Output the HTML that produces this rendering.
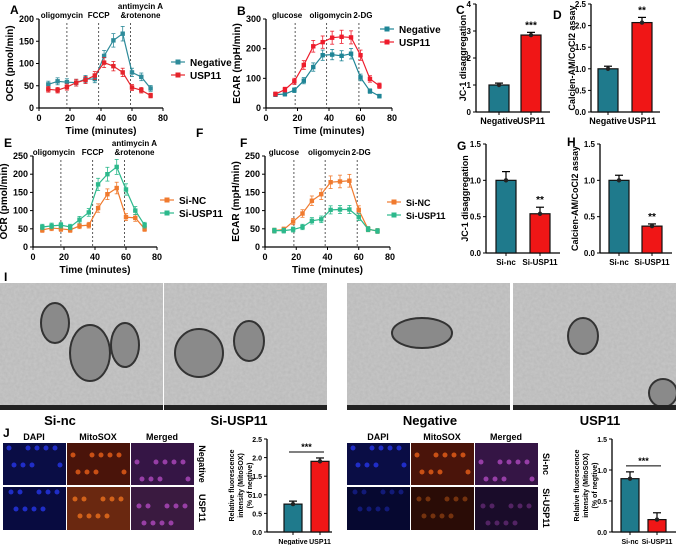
<!DOCTYPE html>
<html><head><meta charset="utf-8"><style>
body{margin:0;background:#fff}
svg{display:block;font-family:"Liberation Sans",Arial,sans-serif;font-weight:bold}
</style></head><body>
<svg id="fig" width="676" height="545" viewBox="0 0 676 545" xmlns="http://www.w3.org/2000/svg">
<defs>
<filter id="noise" x="0" y="0" width="100%" height="100%"><feTurbulence type="fractalNoise" baseFrequency="0.35" numOctaves="2" seed="3"/><feColorMatrix type="matrix" values="0 0 0 0 0.45  0 0 0 0 0.45  0 0 0 0 0.45  0 0 0 -1.6 1.2"/></filter>
</defs>
</svg>
<script>
// ---------- data ----------
const times = [6,12,18,24,30,36,42,48,54,60,66,72];
const aNeg = [53,60,58,57,65,65,117,152,167,80,70,44];
const aUsp = [42,40,47,57,63,73,102,94,80,46,40,28];
const bNeg = [45,47,60,92,138,178,180,176,183,103,57,40];
const bUsp = [47,62,90,145,208,222,237,240,238,178,98,75];
const eSiNC = [47,52,50,47,58,60,107,145,162,82,80,50];
const eSiUSP = [55,58,60,55,75,95,172,200,220,158,100,60];
const fSiNC = [45,48,70,92,127,145,178,180,182,102,49,44];
const fSiUSP = [45,45,48,55,72,76,102,103,103,82,49,44];
const xTicks = [0,20,40,60,80];
const ticksA = [0,50,100,150,200];
const ticksB = [0,100,200,300];
const ticksE = [0,50,100,150,200,250];
const catsNeg = ["Negative","USP11"];
const catsSi = ["Si-nc","Si-USP11"];
const valsC = [1.0,2.85], errsC=[0.07,0.1];
const valsD = [1.0,2.07], errsD=[0.06,0.12];
const valsG = [1.0,0.54], errsG=[0.12,0.09];
const valsH = [1.0,0.37], errsH=[0.07,0.03];
const valsJ1 = [0.75,1.9], errsJ1=[0.08,0.09];
const valsJ2 = [0.86,0.2], errsJ2=[0.11,0.11];
const ticksC=[0,1,2,3,4], ticksD=[0,0.5,1.0,1.5,2.0,2.5], ticksG=[0,0.5,1.0,1.5], ticksJ1=[0,0.5,1.0,1.5,2.0,2.5];

const NS="http://www.w3.org/2000/svg";
const svg=document.getElementById('fig');
function el(tag,attrs,parent,txt){const e=document.createElementNS(NS,tag);for(const k in attrs)e.setAttribute(k,attrs[k]);if(txt!==undefined)e.textContent=txt;(parent||svg).appendChild(e);return e;}
function fmt(v,d){return d?v.toFixed(1):String(v);}

function lineChart(c){
  const g=el('g',{});
  
  
  const sx=v=>c.x0+(v/80)*(c.x1-c.x0);
  const sy=v=>c.yb-(v/c.ymax)*(c.yb-c.yt);
  el('line',{x1:c.x0,y1:c.yt,x2:c.x0,y2:c.yb,stroke:'#000','stroke-width':1.3},g);
  el('line',{x1:c.x0,y1:c.yb,x2:c.x1,y2:c.yb,stroke:'#000','stroke-width':1.3},g);
  c.yticks.forEach(t=>{const y=sy(t);el('line',{x1:c.x0-3,y1:y,x2:c.x0,y2:y,stroke:'#000'},g);
    const tx=el('text',{x:c.x0-5,y:y+3,'font-size':9,'text-anchor':'end'},g,t);});
  xTicks.forEach(t=>{const x=sx(t);el('line',{x1:x,y1:c.yb,x2:x,y2:c.yb+3,stroke:'#000'},g);
    const tx=el('text',{x:x,y:c.yb+13,'font-size':9,'text-anchor':'middle'},g,t);});
  const yt=el('text',{x:0,y:0,'font-size':10,'text-anchor':'middle',transform:`translate(${c.x0-26},${(c.yt+c.yb)/2}) rotate(-90)`},g,c.ytitle);
  
  const xt=el('text',{x:(c.x0+c.x1)/2,y:c.yb+26,'font-size':10,'text-anchor':'middle'},g,'Time (minutes)');
  
  c.vlines.forEach(v=>{const x=sx(v.t);el('line',{x1:x,y1:c.yt+4,x2:x,y2:c.yb,stroke:'#333','stroke-dasharray':'2,2','stroke-width':0.8},g);
    v.lab.forEach((s,i)=>{const t=el('text',{x:x+(v.dx||0),y:c.yt-1-(v.lab.length-1-i)*9,'font-size':8,'text-anchor':'middle'},g,s);});});
  c.series.forEach((s,si)=>{
    const sg=el('g',{},g);
    
    
    const pts=times.map((t,i)=>sx(t)+','+sy(s.vals[i])).join(' ');
    el('polyline',{points:pts,fill:'none',stroke:s.color,'stroke-width':1.2},sg);
    times.forEach((t,i)=>{const x=sx(t),y=sy(s.vals[i]);const e=s.vals[i]*0.08+3;
      el('line',{x1:x,y1:sy(s.vals[i]+e),x2:x,y2:sy(s.vals[i]-e),stroke:s.color,'stroke-width':0.8},sg);
      el('line',{x1:x-2,y1:sy(s.vals[i]+e),x2:x+2,y2:sy(s.vals[i]+e),stroke:s.color,'stroke-width':0.8},sg);
      el('line',{x1:x-2,y1:sy(s.vals[i]-e),x2:x+2,y2:sy(s.vals[i]-e),stroke:s.color,'stroke-width':0.8},sg);
      const m=el('rect',{x:x-2.2,y:y-2.2,width:4.4,height:4.4,fill:s.color},sg);
      });
    const ly=c.legY+si*13;
    const lg=el('g',{},g);
    
    
    el('line',{x1:c.legX,y1:ly,x2:c.legX+14,y2:ly,stroke:s.color,'stroke-width':1.2},lg);
    el('rect',{x:c.legX+4.5,y:ly-2.5,width:5,height:5,fill:s.color},lg);
    el('text',{x:c.legX+19,y:ly+4,'font-size':c.legFs||10},lg,s.label);
  });
}

function barChart(c){
  const g=el('g',{});
  
  
  const sy=v=>c.yb-(v/c.ymax)*(c.yb-c.yt);
  el('line',{x1:c.x0,y1:c.yt,x2:c.x0,y2:c.yb,stroke:'#000','stroke-width':1.3},g);
  el('line',{x1:c.x0,y1:c.yb,x2:c.xe,y2:c.yb,stroke:'#000','stroke-width':1.3},g);
  c.ticks.forEach(t=>{const y=sy(t);el('line',{x1:c.x0-3,y1:y,x2:c.x0,y2:y,stroke:'#000'},g);
    const tx=el('text',{x:c.x0-5,y:y+3,'font-size':c.fs||8,'text-anchor':'end'},g,fmt(t,c.dec));});
  const yt=el('g',{transform:`translate(${c.titleX},${(c.yt+c.yb)/2}) rotate(-90)`},g);
  
  c.ytitle.forEach((s,i)=>el('text',{x:0,y:(i-(c.ytitle.length-1))*9,'font-size':c.tfs||9,'text-anchor':'middle'},yt,s));
  const cols=['#1f7a8c','#f01616'];
  c.vals.forEach((v,i)=>{const cx=c.centers[i];
    const b=el('rect',{x:cx-c.bw/2,y:sy(v),width:c.bw,height:c.yb-sy(v),fill:cols[i],stroke:'#111','stroke-width':1.2},g);
    
    const e=c.errs[i];
    el('line',{x1:cx,y1:sy(v+e),x2:cx,y2:sy(v),stroke:'#000','stroke-width':1.2},g);
    el('line',{x1:cx-4,y1:sy(v+e),x2:cx+4,y2:sy(v+e),stroke:'#000','stroke-width':1.2},g);
    el('circle',{cx:cx,cy:sy(v),r:2.2,fill:'#222'},g);
    el('line',{x1:cx,y1:c.yb,x2:cx,y2:c.yb+3,stroke:'#000'},g);
    const lt=el('text',{x:cx,y:c.yb+12,'font-size':c.lfs||9,'text-anchor':'middle'},g,c.cats[i]);
    
    if(i===1&&c.stars&&!c.sigLine){el('text',{x:cx,y:sy(v+e)-4,'font-size':10,'text-anchor':'middle'},g,c.stars);}
  });
  if(c.sigLine){const ymx=Math.max(...c.vals.map((v,i)=>v+c.errs[i]));const y=sy(ymx)-6;
    el('line',{x1:c.centers[0]-4,y1:y,x2:c.centers[1]+4,y2:y,stroke:'#000','stroke-width':1},g);
    el('text',{x:(c.centers[0]+c.centers[1])/2,y:y-2,'font-size':9,'text-anchor':'middle'},g,c.stars);}
}

function letter(t,x,y){const e=el('text',{x:x,y:y,'font-size':12,'font-weight':'bold'},svg,t);}

lineChart({name:'ocr-chart-a',x0:39,x1:163,yb:108,yt:19,ymax:200,yticks:ticksA,ytitle:'OCR (pmol/min)',
 vlines:[{t:18,lab:['oligomycin'],dx:-5},{t:38.5,lab:['FCCP']},{t:59,lab:['antimycin A','&rotenone'],dx:10}],
 series:[{label:'Negative',vals:aNeg,color:'#2e8b9a'},{label:'USP11',vals:aUsp,color:'#e5242b'}],legX:171,legY:62});
lineChart({name:'ecar-chart-b',x0:266,x1:392,yb:108,yt:19,ymax:300,yticks:ticksB,ytitle:'ECAR (mpH/min)',
 vlines:[{t:18.5,lab:['glucose'],dx:-8},{t:38.5,lab:['oligomycin'],dx:4},{t:59,lab:['2-DG'],dx:4}],
 series:[{label:'Negative',vals:bNeg,color:'#1f8596'},{label:'USP11',vals:bUsp,color:'#ee1c2c'}],legX:380,legY:29});
lineChart({name:'ocr-chart-e',x0:33,x1:157,yb:247,yt:156,ymax:250,yticks:ticksE,ytitle:'OCR (pmol/min)',
 vlines:[{t:18,lab:['oligomycin'],dx:-7},{t:38.5,lab:['FCCP']},{t:59,lab:['antimycin A','&rotenone'],dx:10}],
 series:[{label:'Si-NC',vals:eSiNC,color:'#f07a2e'},{label:'Si-USP11',vals:eSiUSP,color:'#2cb98c'}],legX:160,legY:200});
lineChart({name:'ecar-chart-f',x0:265,x1:390,yb:247,yt:156,ymax:250,yticks:ticksE,ytitle:'ECAR (mpH/min)',
 vlines:[{t:18.5,lab:['glucose'],dx:-10},{t:38.5,lab:['oligomycin'],dx:4},{t:59,lab:['2-DG'],dx:4}],
 series:[{label:'Si-NC',vals:fSiNC,color:'#f07a2e'},{label:'Si-USP11',vals:fSiUSP,color:'#2cb98c'}],legX:387,legY:202,legFs:9});

barChart({name:'jc1-chart-c',x0:476,xe:550,yb:112,yt:4,ymax:4,ticks:ticksC,dec:false,cats:catsNeg,vals:valsC,errs:errsC,centers:[499,531],bw:20,titleX:466,ytitle:['JC-1 disaggregation'],stars:'***'});
barChart({name:'calcein-chart-d',x0:591,xe:660,yb:112,yt:4,ymax:2.5,ticks:ticksD,dec:true,cats:catsNeg,vals:valsD,errs:errsD,centers:[608,642],bw:20,titleX:575,ytitle:['Calcien-AM/CoCl2 assay'],stars:'**'});
barChart({name:'jc1-chart-g',x0:486,xe:560,yb:253,yt:144,ymax:1.5,ticks:ticksG,dec:true,cats:catsSi,vals:valsG,errs:errsG,centers:[506,540],bw:20,titleX:468,lfs:8,ytitle:['JC-1 disaggregation'],stars:'**'});
barChart({name:'calcein-chart-h',x0:600,xe:672,yb:253,yt:144,ymax:1.5,ticks:ticksG,dec:true,cats:catsSi,vals:valsH,errs:errsH,centers:[619,652],bw:20,titleX:578,lfs:8,ytitle:['Calcien-AM/CoCl2 assay'],stars:'**'});
barChart({name:'mitosox-chart-j1',x0:267,xe:332,yb:532,yt:439,ymax:2.5,ticks:ticksJ1,dec:true,cats:catsNeg,vals:valsJ1,errs:errsJ1,centers:[293,320],bw:18,titleX:252,tfs:7,fs:7,lfs:7,ytitle:['Relative fluorescence','intensity (MitoSOX)','(% of negtive)'],stars:'***',sigLine:true});
barChart({name:'mitosox-chart-j2',x0:612,xe:676,yb:532,yt:439,ymax:1.5,ticks:ticksG,dec:true,cats:catsSi,vals:valsJ2,errs:errsJ2,centers:[630,657],bw:18,titleX:597,tfs:7,fs:7,lfs:7,ytitle:['Relative fluorescence','intensity (MitoSOX)','(% of negtive)'],stars:'***',sigLine:true});

letter('A',10,14);letter('B',237,15);letter('C',456,14);letter('D',553,19);
letter('E',4,147);letter('F',240,147);letter('F',196,137);letter('G',457,150);letter('H',567,146);
letter('I',4,281);letter('J',3,437);

const tem=[{x:0,w:163,n:'tem-si-nc'},{x:164,w:163,n:'tem-si-usp11'},{x:347,w:163,n:'tem-negative'},{x:513,w:163,n:'tem-usp11'}];
const mito=[[[55,40,14,20],[90,70,20,28],[125,62,14,22]],[[35,70,24,24],[85,58,15,20]],[[75,50,30,15]],[[70,53,15,18],[150,110,14,14]]];
tem.forEach((t,i)=>{const g=el('g',{});
  
  
  el('rect',{x:t.x,y:283,width:t.w,height:127,fill:'#c4c4c4'},g);
  el('rect',{x:t.x,y:283,width:t.w,height:127,filter:'url(#noise)',opacity:0.55},g);
  mito[i].forEach(m=>el('ellipse',{cx:t.x+m[0],cy:283+m[1],rx:m[2],ry:m[3],fill:'#8a8a8a',stroke:'#333','stroke-width':2},g));
  el('rect',{x:t.x,y:405,width:t.w,height:5,fill:'#222'},g);
});

[['Si-nc',60],['Si-USP11',239],['Negative',430],['USP11',600]].forEach(a=>{const e=el('text',{x:a[1],y:425,'font-size':13,'text-anchor':'middle'},svg,a[0]);});

const heads=['DAPI','MitoSOX','Merged'];
function grid(x0,rows,name){
  const g=el('g',{});
  
  
  const cols=[x0,x0+64,x0+128];
  const fills=[[ '#0a0d45','#4a140a','#351545'],[ '#080b40','#6a2810','#3a1a40']];
  if(rows[1]==='Si-USP11'){fills[1]=['#060830','#2a0c06','#1a0c2a'];}
  const dots=[['#2a3cff','#ff6a1a','#c050d0'],['#2a3cff','#ff7a20','#c050d0']];
  heads.forEach((h,ci)=>{el('text',{x:cols[ci]+31,y:440,'font-size':9,'text-anchor':'middle'},g,h);});
  for(let r=0;r<2;r++){const y=r?487:443;
    for(let ci=0;ci<3;ci++){el('rect',{x:cols[ci],y:y,width:63,height:r?43:42,fill:fills[r][ci]},g);
      for(let k=0;k<9;k++){el('circle',{cx:cols[ci]+6+((k*23+r*11)%55),cy:y+5+((k*17+ci*7)%34),r:2.5,fill:dots[r][ci],opacity:(rows[1]==='Si-USP11'&&r)?0.35:0.7},g);}
    }
    el('text',{x:0,y:0,'font-size':9,'text-anchor':'middle',transform:`translate(${x0+196},${y+21}) rotate(90)`},g,rows[r]);
  }
}
grid(3,['Negative','USP11'],'fluorescence-grid-left');
grid(347,['Si-nc','Si-USP11'],'fluorescence-grid-right');
</script>
</body></html>
